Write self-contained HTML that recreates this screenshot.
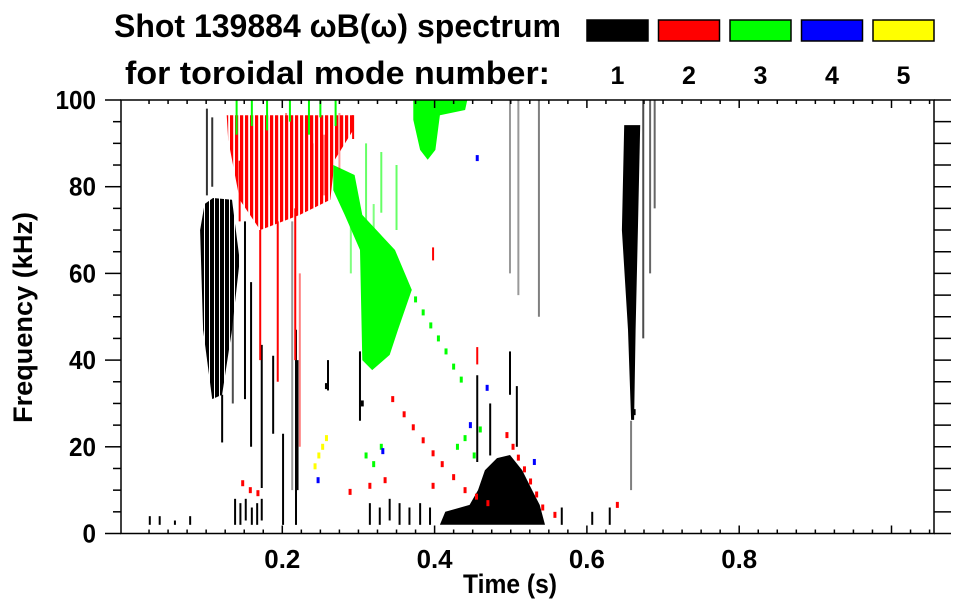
<!DOCTYPE html>
<html><head><meta charset="utf-8">
<style>
html,body{margin:0;padding:0;background:#fff;}
svg{display:block;font-family:"Liberation Sans",sans-serif;font-weight:bold;}
</style></head>
<body>
<svg id="chart" width="963" height="615" viewBox="0 0 963 615" xmlns="http://www.w3.org/2000/svg">
<defs>
<pattern id="stripe-2" patternUnits="userSpaceOnUse" width="5" height="10"><rect x="0" y="0" width="3.2" height="10" fill="#ff0000"/></pattern>
<pattern id="stripe-1" patternUnits="userSpaceOnUse" width="5" height="10"><rect x="0" y="0" width="4" height="10" fill="#000"/></pattern>
</defs>
<g>
<text x="114" y="37" font-size="32" textLength="447" lengthAdjust="spacingAndGlyphs">Shot 139884 ωB(ω) spectrum</text>
<text x="125" y="84" font-size="32" textLength="425" lengthAdjust="spacingAndGlyphs">for toroidal mode number:</text>
</g>
<g id="legend"></g>
<g id="marks"></g>
<g id="axes"></g>
<text x="463" y="593" font-size="27" textLength="94" lengthAdjust="spacingAndGlyphs">Time (s)</text>
<text transform="translate(32,423) rotate(-90)" x="0" y="0" font-size="27" textLength="211" lengthAdjust="spacingAndGlyphs">Frequency (kHz)</text>
</svg>
<script>
// ---- data ----
const modeColors = ["#000000","#ff0000","#00ff00","#0000ff","#ffff00"];
const modeLabels = ["1","2","3","4","5"];
const xTicks = [0.2,0.4,0.6,0.8];
const yTicks = [0,20,40,60,80,100];
// blobs (dense regions)
const blobModes = [1,2,3,3,1,1];
const blobTimes = [
 [.109,.134,.144,.134,.121,.108,.096,.092,.098],
 [.127,.293,.293,.269,.263,.223,.171,.144,.129],
 [.267,.295,.305,.348,.370,.352,.341,.318,.305,.302,.282,.267],
 [.372,.443,.440,.407,.401,.391,.381,.372],
 [.407,.414,.446,.457,.466,.482,.499,.515,.528,.538,.545],
 [.649,.670,.667,.664,.662,.658,.654,.646]
];
const blobFreqs = [
 [77.4,77,63,47,32,31,47,70,76],
 [96.5,96.5,93,86.2,77,73.5,70,77,90.8],
 [85,82.7,73.5,65.4,56.2,47,41.2,37.7,40,65.4,73.5,79.2],
 [100,100,97.7,96.5,88.5,86.2,88.5,95.4],
 [2,5,6.6,10,14.6,17.4,18.1,14.6,10,6.6,2],
 [94.2,94.2,70,47,26.2,26.2,47,70]
];
const blobTexture = [1,1,0,0,0,0];
// vertical streaks
const streakT = [.101,.108,.151,.159,.173,.188,.201,.218,.220,.213,.302,.260,.121,.135,.456,.473,.499,.508,.499,.510,.537,.674,.683,.689,.658,
 .171,.194,.217,.144,.223,.293,.398,.456,.160,.185,.205,.240,.255,.275,
 .14,.16,.18,.21,.235,.25,.27,.31,.33,.35,.29,.32,
 .026,.039,.059,.079,.138,.145,.152,.160,.167,.173,.315,.328,.341,.354,.367,.381,.394,.567,.607,.630];
const streakF0 = [78,80,31,20,10.5,23,2,2,10,10,26,33,21,30,16.5,18,32,20,60,55,50,45,60,75,10,
 40,35,40,72,20,91,63,39,80,78,82,75,78,84,
 92,94,93,95,92,96,94,72,74,70,60,64,
 2,2,2,2,2,2,3,2,2,3,2,2,3,2,2,2,2,2,2,2];
const streakF1 = [98,96,72,58,43.5,41,23,47,40,72,42,40,32,55,36.5,30,42,34,100,100,100,100,100,100,26,
 70,72,75,86,60,96.5,66,43,95,96,97,90,92,97,
 100,100,100,100,100,100,100,90,88,85,72,76,
 4,4,3,4,8,7,8,6,7,8,7,6,8,7,6,7,6,6,5,6];
const streakMode = [1,1,1,1,1,1,1,1,1,1,1,1,1,1,1,1,1,1,1,1,1,1,1,1,1,
 2,2,2,2,2,2,2,2,2,2,2,2,2,2,
 3,3,3,3,3,3,3,3,3,3,3,3,
 1,1,1,1,1,1,1,1,1,1,1,1,1,1,1,1,1,1,1,1];
const streakAmp = [.8,.8,1,1,1,1,1,1,1,.4,1,1,1,.7,1,1,1,1,.4,.4,.5,.7,.6,.6,.5,
 1,1,1,1,.5,1,1,1,.4,.4,.5,.4,.5,.4,
 1,1,1,1,1,1,1,.6,.6,.6,.5,.5,
 1,1,1,1,1,1,1,1,1,1,1,1,1,1,1,1,1,1,1,1];
// isolated points
const dotT = [.148,.168,.158,.315,.335,.398,.289,.558,.640,
 .345,.36,.372,.385,.398,.41,.425,.44,.455,.47,
 .495,.503,.51,.518,.526,.534,.542,
 .375,.385,.395,.405,.415,.425,.435,.43,.44,.452,.46,.31,.32,.33,
 .247,.332,.456,.469,.447,.531,
 .243,.248,.253,.258,
 .662,.258,.305];
const dotF = [11.6,9.3,10,11,12.3,11,9.6,4.3,6.6,
 31,27.5,24.5,21.5,18.5,16,13,10,8.5,7,
 22.7,20,17.5,14.8,12,9,6,
 54,51,48,45,42,38.5,35.5,20,22,18,24,18,16,20,
 12.3,19,86.6,33.6,25,16.5,
 15.5,18,20,22,
 28,34,30];
const dotMode = [2,2,2,2,2,2,2,2,2,
 2,2,2,2,2,2,2,2,2,2,
 2,2,2,2,2,2,2,
 3,3,3,3,3,3,3,3,3,3,3,3,3,3,
 4,4,4,4,4,4,
 5,5,5,5,
 1,1,1];

// ---- scales ----
const X0=121,X1=934,Y0=100,Y1=533.5;
function xs(t){return 130+761.5*t;}
function ys(f){return 533.5-4.335*f;}
const NS="http://www.w3.org/2000/svg";
function mk(tag,attrs,parent){const e=document.createElementNS(NS,tag);for(const k in attrs)e.setAttribute(k,attrs[k]);parent.appendChild(e);return e;}

// legend
const lg=document.getElementById('legend');
for(let i=0;i<modeColors.length;i++){
  const r=mk('rect',{x:587+i*71.5,y:20,width:61,height:21,fill:modeColors[i],stroke:'#000','stroke-width':1.5},lg);
  
  
  const t=mk('text',{x:617.5+i*71.5,y:84,'font-size':25,'text-anchor':'middle'},lg);
  t.textContent=modeLabels[i];
  
  
}

// marks
const mg=document.getElementById('marks');
for(let b=0;b<blobTimes.length;b++){
  const pts=blobTimes[b].map((t,i)=>xs(t).toFixed(1)+','+ys(blobFreqs[b][i]).toFixed(1)).join(' ');
  const fill=blobTexture[b]?'url(#stripe-'+blobModes[b]+')':modeColors[blobModes[b]-1];
  const p=mk('polygon',{points:pts,fill:fill},mg);
  
  
}
for(let i=0;i<streakT.length;i++){
  const l=mk('line',{x1:xs(streakT[i]),x2:xs(streakT[i]),y1:ys(streakF0[i]),y2:ys(streakF1[i]),stroke:modeColors[streakMode[i]-1],'stroke-width':2,'stroke-opacity':streakAmp[i]},mg);
  
  
}
for(let i=0;i<dotT.length;i++){
  const r=mk('rect',{x:xs(dotT[i])-1.5,y:ys(dotF[i])-3,width:3,height:6,fill:modeColors[dotMode[i]-1]},mg);
  
  
}

// axes
const ax=document.getElementById('axes');
const fr=mk('rect',{x:X0,y:Y0,width:X1-X0,height:Y1-Y0,fill:'none',stroke:'#000','stroke-width':1.5},ax);


for(let k=0;k*0.025+0.025<1.06;k++){
  const t=(k+1)*0.025;const x=xs(t);if(x>X1-1)break;
  const major=Math.abs(t*5-Math.round(t*5))<1e-6;
  const len=major?8:4;
  mk('line',{x1:x,x2:x,y1:Y1,y2:Y1-len,stroke:'#000','stroke-width':1.5},ax);
  mk('line',{x1:x,x2:x,y1:Y0,y2:Y0+len,stroke:'#000','stroke-width':1.5},ax);
}
xTicks.forEach(v=>{
  const t=mk('text',{x:xs(v),y:568,'font-size':26,'text-anchor':'middle',textLength:36,lengthAdjust:'spacingAndGlyphs'},ax);
  t.textContent=v.toFixed(1);
  
  
});
for(let f=0;f<=100;f+=5){
  const y=ys(f);const major=f%20===0;
  mk('line',{x1:X0,x2:X0-(major?16:8),y1:y,y2:y,stroke:'#000','stroke-width':1.5},ax);
  mk('line',{x1:X1,x2:X1+17,y1:y,y2:y,stroke:'#000','stroke-width':1.5},ax);
}
yTicks.forEach(v=>{
  const s=String(v);
  const t=mk('text',{x:96,y:ys(v)+9,'font-size':26,'text-anchor':'end',textLength:s.length*13.5,lengthAdjust:'spacingAndGlyphs'},ax);
  t.textContent=s;
  
  
});
</script>
</body></html>
